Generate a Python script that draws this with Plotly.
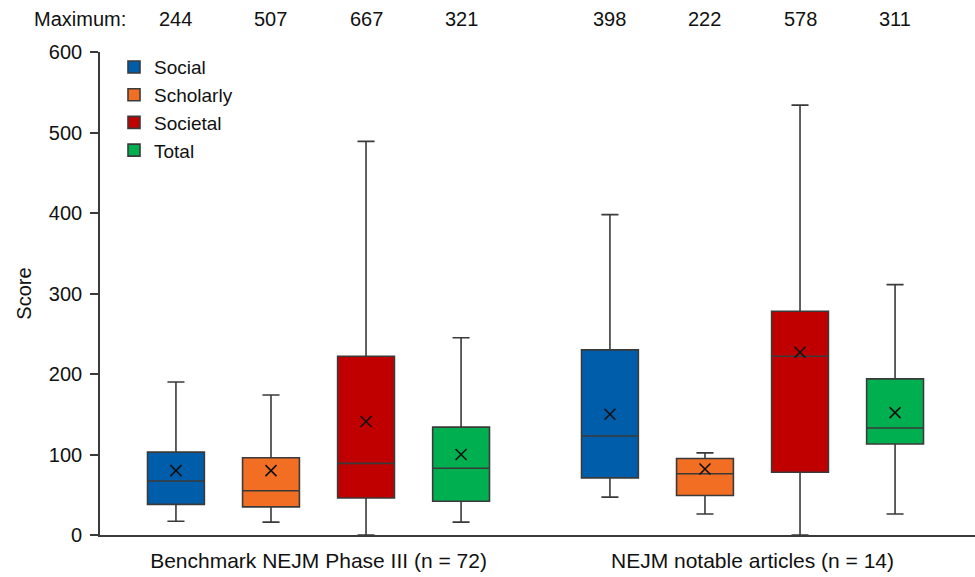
import plotly.graph_objects as go

# ---- data ----
groups = ["Benchmark NEJM Phase III (n = 72)", "NEJM notable articles (n = 14)"]
series = ["Social", "Scholarly", "Societal", "Total"]
colors = ["#005DAA", "#F26E22", "#C00000", "#00B050"]

lower = {"Social": [17, 47], "Scholarly": [16, 26], "Societal": [0, 0], "Total": [16, 26]}
q1 = {"Social": [38, 71], "Scholarly": [35, 49], "Societal": [46, 78], "Total": [42, 113]}
median = {"Social": [67, 123], "Scholarly": [55, 76], "Societal": [89, 222], "Total": [83, 133]}
q3 = {"Social": [103, 230], "Scholarly": [96, 95], "Societal": [222, 278], "Total": [134, 194]}
upper = {"Social": [190, 398], "Scholarly": [174, 102], "Societal": [489, 534], "Total": [245, 311]}
mean = {"Social": [80, 150], "Scholarly": [80, 82], "Societal": [141, 227], "Total": [100, 152]}
maximum = {"Social": [244, 398], "Scholarly": [507, 222], "Societal": [667, 578], "Total": [321, 311]}

y_ticks = [0, 100, 200, 300, 400, 500, 600]

# ---- layout helpers ----
slot = 0.219
box_w = 0.131
offsets = [(i - 1.5) * slot for i in range(len(series))]
edge = "#3a3a3a"
font_family = "Liberation Sans, Arial, sans-serif"

fig = go.Figure()
annotations = []
for i, s in enumerate(series):
    xs = [g + offsets[i] for g in range(len(groups))]
    fig.add_trace(go.Box(
        x=xs, q1=q1[s], median=median[s], q3=q3[s],
        lowerfence=lower[s], upperfence=upper[s],
        name=s, width=box_w, whiskerwidth=0.3,
        fillcolor=colors[i], line=dict(color=edge, width=1.6),
        boxpoints=False, hoverinfo="skip",
    ))
    fig.add_trace(go.Scatter(
        x=xs, y=mean[s], mode="markers", showlegend=False,
        marker=dict(symbol="x-thin", size=11, line=dict(color="#111", width=1.6)),
        hoverinfo="skip",
    ))
    for g, x in enumerate(xs):
        annotations.append(dict(x=x, xref="x", y=1.0, yref="paper", yshift=46,
                                text=str(maximum[s][g]), showarrow=False,
                                font=dict(size=20, color="#111", family=font_family)))

annotations.append(dict(x=-0.078, xref="paper", y=1.0, yref="paper", yshift=46,
                        text="Maximum:", showarrow=False, xanchor="left",
                        font=dict(size=20, color="#111", family=font_family)))

fig.update_layout(
    width=975, height=577,
    margin=dict(l=100, r=0, t=52, b=42),
    paper_bgcolor="white", plot_bgcolor="white",
    font=dict(family=font_family, size=20, color="#111"),
    showlegend=True,
    legend=dict(x=0.016, y=1.008, xanchor="left", yanchor="top",
                font=dict(size=19), bgcolor="rgba(0,0,0,0)", tracegroupgap=0),
    annotations=annotations,
)
fig.update_xaxes(
    range=[-0.5035, 1.5127], tickvals=list(range(len(groups))), ticktext=groups,
    showline=True, linecolor=edge, linewidth=1.6, ticks="", showgrid=False,
    zeroline=False, tickfont=dict(size=21), ticklabelstandoff=6,
)
fig.update_yaxes(
    range=[0, 600], tickvals=y_ticks, showline=True, linecolor=edge, linewidth=1.6,
    ticks="outside", ticklen=8, tickcolor=edge, tickwidth=1.6, showgrid=False,
    zeroline=False, title=dict(text="Score", font=dict(size=20), standoff=12),
    tickfont=dict(size=20), ticklabelstandoff=4,
)

fig.write_html("out.html")
